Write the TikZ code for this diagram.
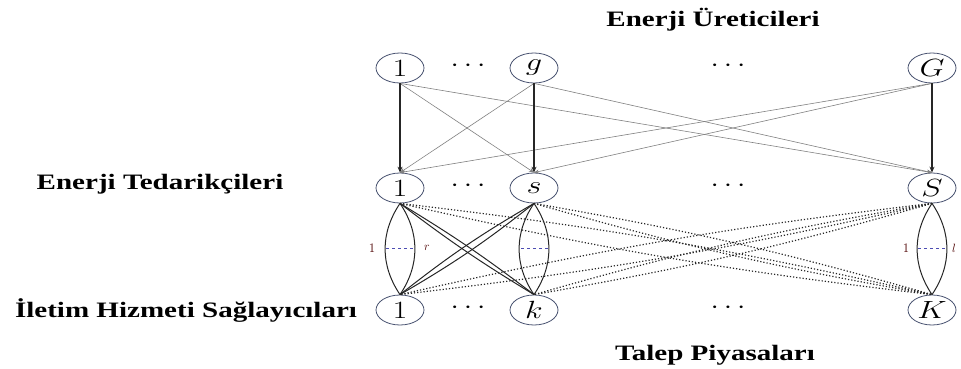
\documentclass[tikz,border=0pt]{standalone}
\usepackage{fontspec}
\newfontfamily\titlefont{Liberation Serif}
\usetikzlibrary{shapes.geometric,arrows.meta}
\definecolor{nodeline}{RGB}{70,80,110}
\begin{document}
\begin{tikzpicture}[x=1pt,y=-1pt,
  vert/.style={ellipse,draw=nodeline,line width=0.8pt,minimum width=48pt,minimum height=30pt,inner sep=0pt,font=\fontsize{23}{26}\selectfont},
  title/.style={font=\titlefont\bfseries\fontsize{22}{24}\selectfont,inner sep=0pt},
  hdots/.style={font=\bfseries\fontsize{26}{28}\selectfont,inner sep=0pt},
  main/.style={line width=1.1pt,black!85,-{Stealth[length=6pt,width=5pt]}},
  thin/.style={line width=0.6pt,black!50,-{Stealth[length=5pt,width=4pt]}},
  lens/.style={line width=1pt,black!85},
  dots/.style={line width=1.2pt,black!85,dotted},
  solidx/.style={line width=1pt,black!85},
  idx/.style={font=\fontsize{13}{14}\selectfont,inner sep=0pt,text=black!70!red},
  mid/.style={dashed,line width=0.6pt,blue!40!gray}]
\useasboundingbox (0,0) rectangle (961,369);
% titles
\node[title] (t1) at (713,20) {\scalebox{1.32}[1]{Enerji Üreticileri}};
\node[title] (t2) at (160,184) {\scalebox{1.32}[1]{Enerji Tedarikçileri}};
\node[title] (t3) at (186,310) {\scalebox{1.32}[1]{İletim Hizmeti Sağlayıcıları}};
\node[title] (t4) at (715,355) {\scalebox{1.32}[1]{Talep Piyasaları}};
% nodes
\node[vert] (g1) at (400,68) {\scalebox{1.3}[1]{$1$}};
\node[vert] (gg) at (534,68) {\scalebox{1.3}[1]{$g$}};
\node[vert] (gG) at (932,68) {\scalebox{1.3}[1]{$G$}};
\node[vert] (s1) at (400,188) {\scalebox{1.3}[1]{$1$}};
\node[vert] (ss) at (534,188) {\scalebox{1.3}[1]{$s$}};
\node[vert] (sS) at (932,188) {\scalebox{1.3}[1]{$S$}};
\node[vert] (k1) at (400,310) {\scalebox{1.3}[1]{$1$}};
\node[vert] (kk) at (534,310) {\scalebox{1.3}[1]{$k$}};
\node[vert] (kK) at (932,310) {\scalebox{1.3}[1]{$K$}};
% dots
\foreach \y/\n in {66/a,186/b,308/c}{
  \node[hdots] (d1\n) at (468,\y) {\scalebox{1.2}[1]{$\cdots$}};
  \node[hdots] (d2\n) at (728,\y) {\scalebox{1.2}[1]{$\cdots$}};
}
% top -> middle
\draw[thin] (g1.south) -- (ss.north);
\draw[thin] (g1.south) -- (sS.north);
\draw[thin] (gg.south) -- (s1.north);
\draw[thin] (gg.south) -- (sS.north);
\draw[thin] (gG.south) -- (s1.north);
\draw[thin] (gG.south) -- (ss.north);
\draw[main] (g1.south) -- (s1.north);
\draw[main] (gg.south) -- (ss.north);
\draw[main] (gG.south) -- (sS.north);
% lenses
\foreach \a/\b in {s1/k1,ss/kk,sS/kK}{
  \draw[lens] (\a.south) to[bend left=34] (\b.north);
  \draw[lens] (\a.south) to[bend right=34] (\b.north);
}
\draw[mid] (386,248) -- (416,248);
\draw[mid] (521,248) -- (549,248);
\draw[mid] (918,248) -- (946,248);
\node[idx] (l1) at (372,248) {1};
\node[idx] (lr) at (427,248) {$r$};
\node[idx] (m1) at (906,248) {1};
\node[idx] (ml) at (954,248) {$l$};
% solid crosses
\draw[solidx] (s1.south) to[bend left=3] (kk.north);
\draw[solidx] (s1.south) to[bend right=3] (kk.north);
\draw[solidx] (ss.south) to[bend left=4] (k1.north);
\draw[solidx] (ss.south) to[bend right=4] (k1.north);
% dotted crosses
\foreach \a/\b in {s1/kK,ss/kK,sS/k1,sS/kk}{
  \draw[dots] (\a.south) to[bend left=3] (\b.north);
  \draw[dots] (\a.south) to[bend right=3] (\b.north);
}
\end{tikzpicture}
\end{document}
